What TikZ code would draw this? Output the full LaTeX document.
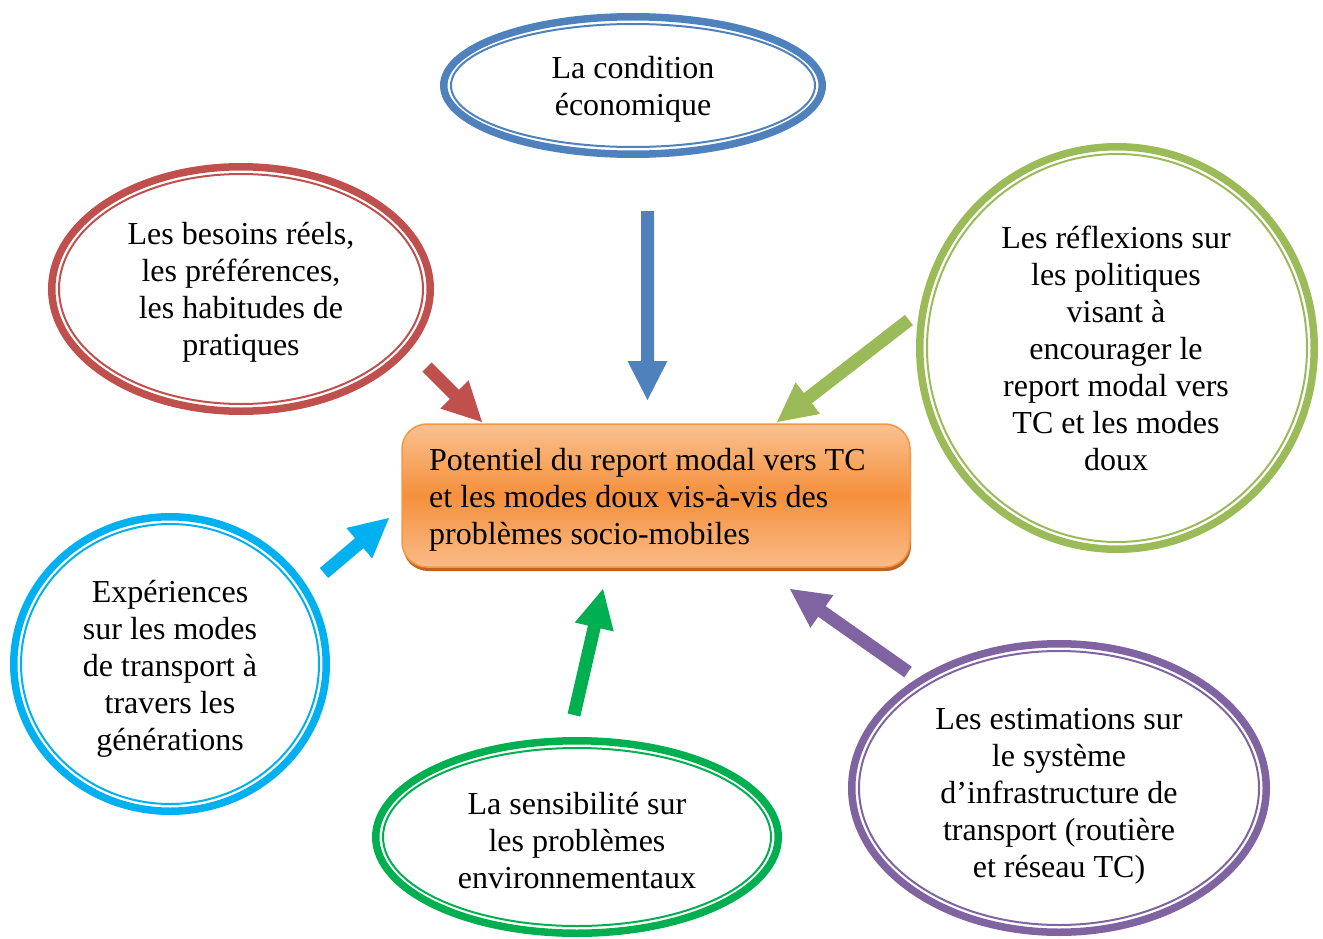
\documentclass[tikz,border=0pt]{standalone}
\usepackage{fontspec}
\setmainfont{Liberation Serif}
\usetikzlibrary{shapes.geometric,calc,shadows}
\definecolor{cblue}{HTML}{4F81BD}
\definecolor{cred}{HTML}{C0504D}
\definecolor{clgreen}{HTML}{9BBB59}
\definecolor{ccyan}{HTML}{00B0F0}
\definecolor{cgreen}{HTML}{00B050}
\definecolor{cpurple}{HTML}{8064A2}
\definecolor{corange}{HTML}{F79646}
\definecolor{otop}{HTML}{F9C190}
\definecolor{omid}{HTML}{F5903C}
\definecolor{obot}{HTML}{FABB88}
\definecolor{oshadow}{HTML}{BF6420}
\newcommand\blockarr[3]{%
  \coordinate (ba) at ($(#3)!39pt!(#2)$);
  \fill[#1] ($(#2)!6.5pt!90:(#3)$) -- ($(ba)!6.5pt!90:(#3)$) -- ($(ba)!20pt!90:(#3)$) -- (#3)
    -- ($(ba)!20pt!-90:(#3)$) -- ($(ba)!6.5pt!-90:(#3)$) -- ($(#2)!6.5pt!-90:(#3)$) -- cycle;}
\tikzset{
  bub/.style={ellipse, draw=#1, line width=7.5pt, inner sep=0pt},
  inring/.style={draw=#1, line width=2pt},
  txt/.style={align=center, inner sep=0pt},
  core/.style={rectangle, rounded corners=25pt, draw=corange, line width=1.5pt,
    top color=otop, bottom color=obot, middle color=omid,
    drop shadow={shadow xshift=1pt, shadow yshift=-4pt, fill=oshadow, opacity=1},
    minimum width=508pt, minimum height=143pt, inner sep=0pt}
}
\begin{document}
\begin{tikzpicture}[x=1pt, y=-1pt, font=\fontsize{32}{37}\selectfont]
\useasboundingbox (0,0) rectangle (1323,939);
% central box
\node[core] (core) at (656,495.5) {};
\node[align=left, inner sep=0pt, anchor=west] (coretxt) at (429,499.5) {Potentiel du report modal vers TC\\et les modes doux vis-à-vis des\\problèmes socio-mobiles};
% bubbles
\node[bub=cblue, minimum width=378.5pt, minimum height=137.5pt] (econ) at (633,85.5) {};
\draw[inring=cblue] (econ.center) ellipse [x radius=182pt, y radius=61.5pt];
\node[txt] (econT) at ($(econ.center)+(0,4)$) {La condition\\économique};
\node[bub=cred, minimum width=378.5pt, minimum height=244.5pt] (besoins) at (241,289) {};
\draw[inring=cred] (besoins.center) ellipse [x radius=182pt, y radius=115pt];
\node[txt] (besoinsT) at ($(besoins.center)+(0,3)$) {Les besoins réels,\\les préférences,\\les habitudes de\\pratiques};
\node[bub=clgreen, minimum width=394.5pt, minimum height=402.5pt] (reflex) at (1117,348) {};
\draw[inring=clgreen] (reflex.center) ellipse [x radius=190pt, y radius=194pt];
\fill[clgreen] ($(reflex.north)+(-5,0)$) rectangle ($(reflex.north)+(5,4)$);
\node[txt] (reflexT) at ($(reflex.center)+(-1,0)$) {Les réflexions sur\\les politiques\\visant à\\encourager le\\report modal vers\\TC et les modes\\doux};
\node[bub=ccyan, minimum width=312.5pt, minimum height=294.5pt] (exper) at (170,664) {};
\draw[inring=ccyan] (exper.center) ellipse [x radius=149pt, y radius=140pt];
\node[txt] (experT) at ($(exper.center)+(0,5)$) {Expériences\\sur les modes\\de transport à\\travers les\\générations};
\node[bub=cgreen, minimum width=402.5pt, minimum height=192.5pt] (sens) at (577,837) {};
\draw[inring=cgreen] (sens.center) ellipse [x radius=194pt, y radius=89pt];
\node[txt] (sensT) at ($(sens.center)+(0,4)$) {La sensibilité sur\\les problèmes\\environnementaux};
\node[bub=cpurple, minimum width=414.5pt, minimum height=288.5pt] (estim) at (1059,788) {};
\draw[inring=cpurple] (estim.center) ellipse [x radius=200pt, y radius=137pt];
\fill[cpurple] ($(estim.north)+(-5,0)$) rectangle ($(estim.north)+(5,7)$);
\node[txt] (estimT) at ($(estim.center)+(0,8)$) {Les estimations sur\\le système\\d’infrastructure de\\transport (routière\\et réseau TC)};
% arrow end points
\coordinate (aT1) at (647.5,211); \coordinate (aH1) at (647.5,400);
\coordinate (aT2) at (427,367);   \coordinate (aH2) at (482,422);
\coordinate (aT3) at (909,320);   \coordinate (aH3) at (777,422);
\coordinate (aT4) at (324,573);   \coordinate (aH4) at (389,518);
\coordinate (aT5) at (574,715);   \coordinate (aH5) at (603,589);
\coordinate (aT6) at (908,672);   \coordinate (aH6) at (790,589);
\blockarr{cblue}{aT1}{aH1}
\blockarr{cred}{aT2}{aH2}
\blockarr{clgreen}{aT3}{aH3}
\blockarr{ccyan}{aT4}{aH4}
\blockarr{cgreen}{aT5}{aH5}
\blockarr{cpurple}{aT6}{aH6}
\end{tikzpicture}
\end{document}
